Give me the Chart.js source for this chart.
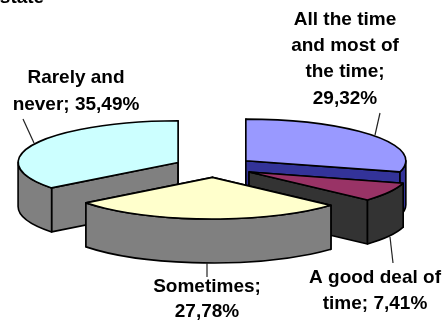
<!DOCTYPE html>
<html>
<head>
<meta charset="utf-8">
<script src="https://cdn.jsdelivr.net/npm/chart.js@4"></script>
<style>
  body { margin: 0; background: #fff; }
  canvas { display: block; }
</style>
</head>
<body>
<canvas id="pie" width="444" height="320"></canvas>
<script>
const categories = ['All the time and most of the time', 'A good deal of time', 'Sometimes', 'Rarely and never'];
const shares = [29.32, 7.41, 27.78, 35.49];
const topColors = ['#9999ff', '#993366', '#ffffcc', '#ccffff'];
const sideColors = ['#333399', '#333333', '#808080', '#808080'];
const paintOrder = [3, 0, 1, 2];   // back slices first
const explode = 40;
const tilt = 0.26;    // vertical squash of the pie
const depth = 44;     // height of the extruded side

// text blocks: lines, centre x, baseline of each line
const labelBlocks = [
    { lines: ['All the time', 'and most of', 'the time;', '29,32%'], x: 345, y: [25, 51, 77, 104] },
    { lines: ['A good deal of', 'time; 7,41%'], x: 375, y: [283, 309] },
    { lines: ['Sometimes;', '27,78%'], x: 207, y: [292, 317] },
    { lines: ['Rarely and', 'never; 35,49%'], x: 76, y: [83, 110] },
    { lines: ['state'], x: 22, y: [3] }
];
const leaders = [
    [380, 113, 375, 135],
    [390, 237, 393, 263],
    [207, 263, 207, 277],
    [23, 119, 34, 143]
];

function fillStroke(ctx, color) {
    ctx.fillStyle = color;
    ctx.fill();
    ctx.stroke();
}

// one exploded slice: cut faces, front rim, then the top
function drawSlice(ctx, arc, topColor, sideColor) {
    const { x, y, startAngle, endAngle, outerRadius } = arc.getProps(['x', 'y', 'startAngle', 'endAngle', 'outerRadius'], true);
    const mid = (startAngle + endAngle) / 2;
    const cx = x + Math.cos(mid) * arc.options.offset;
    const cy = y + Math.sin(mid) * arc.options.offset * tilt;
    const rx = outerRadius;
    const ry = outerRadius * tilt;

    [startAngle, endAngle].forEach(a => {
        ctx.beginPath();
        ctx.moveTo(cx, cy);
        ctx.lineTo(cx + rx * Math.cos(a), cy + ry * Math.sin(a));
        ctx.lineTo(cx + rx * Math.cos(a), cy + ry * Math.sin(a) + depth);
        ctx.lineTo(cx, cy + depth);
        ctx.closePath();
        fillStroke(ctx, sideColor);
    });

    const from = Math.max(startAngle, 0);
    const to = Math.min(endAngle, Math.PI);
    if (to > from) {
        ctx.beginPath();
        ctx.ellipse(cx, cy, rx, ry, 0, from, to);
        ctx.ellipse(cx, cy + depth, rx, ry, 0, to, from, true);
        ctx.closePath();
        fillStroke(ctx, sideColor);
    }

    ctx.beginPath();
    ctx.moveTo(cx, cy);
    ctx.ellipse(cx, cy, rx, ry, 0, startAngle, endAngle);
    ctx.closePath();
    fillStroke(ctx, topColor);
}

const tiltedPie = {
    id: 'tiltedPie',
    beforeDatasetsDraw(chart) {
        const ctx = chart.ctx;
        const arcs = chart.getDatasetMeta(0).data;
        ctx.save();
        ctx.lineWidth = 1.6;
        ctx.strokeStyle = '#000';
        ctx.lineJoin = 'round';
        paintOrder.forEach(i => drawSlice(ctx, arcs[i], topColors[i], sideColors[i]));
        ctx.restore();
        return false;
    },
    afterDraw(chart) {
        const ctx = chart.ctx;
        ctx.save();
        ctx.strokeStyle = '#222';
        ctx.lineWidth = 1.2;
        leaders.forEach(l => {
            ctx.beginPath();
            ctx.moveTo(l[0], l[1]);
            ctx.lineTo(l[2], l[3]);
            ctx.stroke();
        });
        ctx.fillStyle = '#000';
        ctx.font = 'bold 19px "Liberation Sans"';
        ctx.textAlign = 'center';
        labelBlocks.forEach(block => {
            block.lines.forEach((line, i) => ctx.fillText(line, block.x, block.y[i]));
        });
        ctx.restore();
    }
};

new Chart(document.getElementById('pie').getContext('2d'), {
    type: 'pie',
    data: {
        labels: categories,
        datasets: [{ data: shares, backgroundColor: topColors, offset: explode, borderWidth: 0 }]
    },
    options: {
        responsive: false,
        animation: false,
        radius: 160,
        layout: { padding: { left: 50, right: 66, top: 60, bottom: 46 } },
        plugins: { legend: { display: false }, tooltip: { enabled: false } }
    },
    plugins: [tiltedPie]
});
</script>
</body>
</html>
